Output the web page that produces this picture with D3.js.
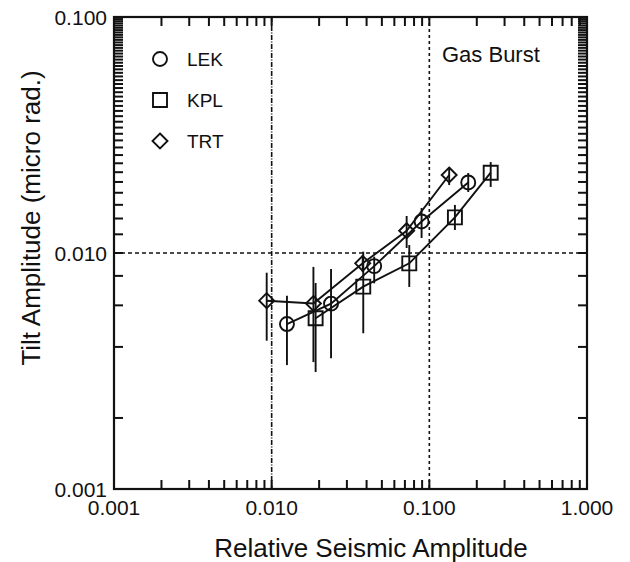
<!DOCTYPE html>
<html>
<head>
<meta charset="utf-8">
<script src="https://cdn.jsdelivr.net/npm/d3@7"></script>
<style>
  body { margin: 0; background: #fff; }
  text { font-family: "Liberation Sans", Arial, Helvetica, sans-serif; fill: #111; }
</style>
</head>
<body>
<div id="chart"></div>
<script>
// values (log-log)
const xTicks = [0.001, 0.01, 0.1, 1];
const yTicks = [0.001, 0.01, 0.1];
const xTickLabels = ["0.001", "0.010", "0.100", "1.000"];
const yTickLabels = ["0.001", "0.010", "0.100"];

const lekX  = [0.0125, 0.0238, 0.0447, 0.0893, 0.1765];
const lekY  = [0.0050, 0.0061, 0.0088, 0.0136, 0.0199];
const lekLo = [0.00335, 0.00358, 0.00744, 0.01158, 0.01814];
const lekHi = [0.00659, 0.00855, 0.00965, 0.01552, 0.02183];

const kplX  = [0.0190, 0.0381, 0.0746, 0.1453, 0.245];
const kplY  = [0.00529, 0.0072, 0.00904, 0.01416, 0.02189];
const kplLo = [0.00313, 0.00457, 0.00718, 0.01252, 0.01905];
const kplHi = [0.00746, 0.01013, 0.01081, 0.01598, 0.02429];

const trtX  = [0.0093, 0.0184, 0.0378, 0.0718, 0.1336];
const trtY  = [0.00628, 0.00611, 0.00904, 0.01243, 0.0214];
const trtLo = [0.00425, 0.00345, 0.0083, 0.0105, 0.0194];
const trtHi = [0.00825, 0.00873, 0.0098, 0.01435, 0.0229];

const seriesNames = ["LEK", "KPL", "TRT"];
const seriesShapes = ["circle", "square", "diamond"];

const ctx = { W: 630, H: 562, left: 114, right: 587, top: 17, bottom: 489 };

function build(xs, ys, lo, hi) {
    return xs.map((x, i) => ({ x: x, y: ys[i], lo: lo[i], hi: hi[i] }));
}
const series = [
    { name: "LEK", shape: "circle",  pts: build(lekX, lekY, lekLo, lekHi) },
    { name: "KPL", shape: "square",  pts: build(kplX, kplY, kplLo, kplHi) },
    { name: "TRT", shape: "diamond", pts: build(trtX, trtY, trtLo, trtHi) },
];

function shapePath(shape) {
    if (shape === "circle") return "M7,0A7,7 0 1,1 -7,0A7,7 0 1,1 7,0Z";
    if (shape === "square") return "M-7,-7H7V7H-7Z";
    return "M0,-7.5L7.5,0L0,7.5L-7.5,0Z";
}

const svg = d3.select("#chart").append("svg")
    .attr("width", ctx.W).attr("height", ctx.H);

const x = d3.scaleLog().domain([0.001, 1]).range([ctx.left, ctx.right]);
const y = d3.scaleLog().domain([0.001, 0.1]).range([ctx.bottom, ctx.top]);

// minor ticks 2..9 in each decade
const xMinor = x.ticks(40).filter(v => !xTicks.some(t => Math.abs(t - v) / t < 1e-6));
const yMinor = y.ticks(40).filter(v => !yTicks.some(t => Math.abs(t - v) / t < 1e-6));

const tickLen = 9;
const g = svg.append("g").attr("stroke", "#111").attr("stroke-width", 2);
g.selectAll("line.xb").data(xMinor.concat(xTicks)).enter().append("line")
    .attr("x1", d => x(d)).attr("x2", d => x(d))
    .attr("y1", ctx.bottom).attr("y2", ctx.bottom - tickLen);
g.selectAll("line.xt").data(xMinor.concat(xTicks)).enter().append("line")
    .attr("x1", d => x(d)).attr("x2", d => x(d))
    .attr("y1", ctx.top).attr("y2", ctx.top + tickLen);
g.selectAll("line.yl").data(yMinor.concat(yTicks)).enter().append("line")
    .attr("y1", d => y(d)).attr("y2", d => y(d))
    .attr("x1", ctx.left).attr("x2", ctx.left + tickLen);
g.selectAll("line.yr").data(yMinor.concat(yTicks)).enter().append("line")
    .attr("y1", d => y(d)).attr("y2", d => y(d))
    .attr("x1", ctx.right).attr("x2", ctx.right - tickLen);

// dashed reference lines
svg.append("line").attr("x1", x(0.01)).attr("x2", x(0.01))
    .attr("y1", ctx.top).attr("y2", ctx.bottom)
    .attr("stroke", "#111").attr("stroke-width", 1.6).attr("stroke-dasharray", "5,1.5,1,1.5");
svg.append("line").attr("x1", x(0.1)).attr("x2", x(0.1))
    .attr("y1", ctx.top).attr("y2", ctx.bottom)
    .attr("stroke", "#111").attr("stroke-width", 1.6).attr("stroke-dasharray", "3,3");
svg.append("line").attr("x1", ctx.left).attr("x2", ctx.right)
    .attr("y1", y(0.01)).attr("y2", y(0.01))
    .attr("stroke", "#111").attr("stroke-width", 1.6).attr("stroke-dasharray", "4,3");

// frame
svg.append("rect").attr("x", ctx.left).attr("y", ctx.top)
    .attr("width", ctx.right - ctx.left).attr("height", ctx.bottom - ctx.top)
    .attr("fill", "none").attr("stroke", "#111").attr("stroke-width", 2.2);

// tick labels
svg.selectAll("text.xl").data(xTicks).enter().append("text")
    .attr("x", d => x(d)).attr("y", ctx.bottom + 26)
    .attr("text-anchor", "middle").style("font-size", "21px")
    .text((d, i) => xTickLabels[i]);
svg.selectAll("text.yl").data(yTicks).enter().append("text")
    .attr("x", ctx.left - 7).attr("y", d => y(d) + 8)
    .attr("text-anchor", "end").style("font-size", "21px")
    .text((d, i) => yTickLabels[i]);

// axis titles
svg.append("text").attr("x", 371).attr("y", 557)
    .attr("text-anchor", "middle").style("font-size", "26px")
    .text("Relative Seismic Amplitude");
svg.append("text").attr("transform", "translate(40,218) rotate(-90)")
    .attr("text-anchor", "middle").style("font-size", "26px")
    .text("Tilt Amplitude (micro rad.)");

// data
const line = d3.line().x(d => x(d.x)).y(d => y(d.y));
const sg = svg.selectAll("g.series").data(series).enter().append("g");
sg.append("path").attr("d", d => line(d.pts))
    .attr("fill", "none").attr("stroke", "#111").attr("stroke-width", 1.9);
sg.selectAll("line.err").data(d => d.pts).enter().append("line")
    .attr("x1", d => x(d.x)).attr("x2", d => x(d.x))
    .attr("y1", d => y(d.lo)).attr("y2", d => y(d.hi))
    .attr("stroke", "#111").attr("stroke-width", 1.9);
sg.each(function (s) {
    d3.select(this).selectAll("path.mk").data(s.pts).enter().append("path")
        .attr("d", shapePath(s.shape))
        .attr("transform", d => `translate(${x(d.x)},${y(d.y)})`)
        .attr("fill", "none").attr("stroke", "#111").attr("stroke-width", 1.9);
});

// legend
const leg = svg.append("g");
seriesNames.forEach((name, i) => {
    const yy = 59 + i * 41;
    leg.append("path").attr("d", shapePath(seriesShapes[i]))
        .attr("transform", `translate(160,${yy})`)
        .attr("fill", "none").attr("stroke", "#111").attr("stroke-width", 1.9);
    leg.append("text").attr("x", 187).attr("y", yy + 7)
        .style("font-size", "19px").text(name);
});

svg.append("text").attr("x", 442).attr("y", 62)
    .style("font-size", "22px").text("Gas Burst");
</script>
</body>
</html>
